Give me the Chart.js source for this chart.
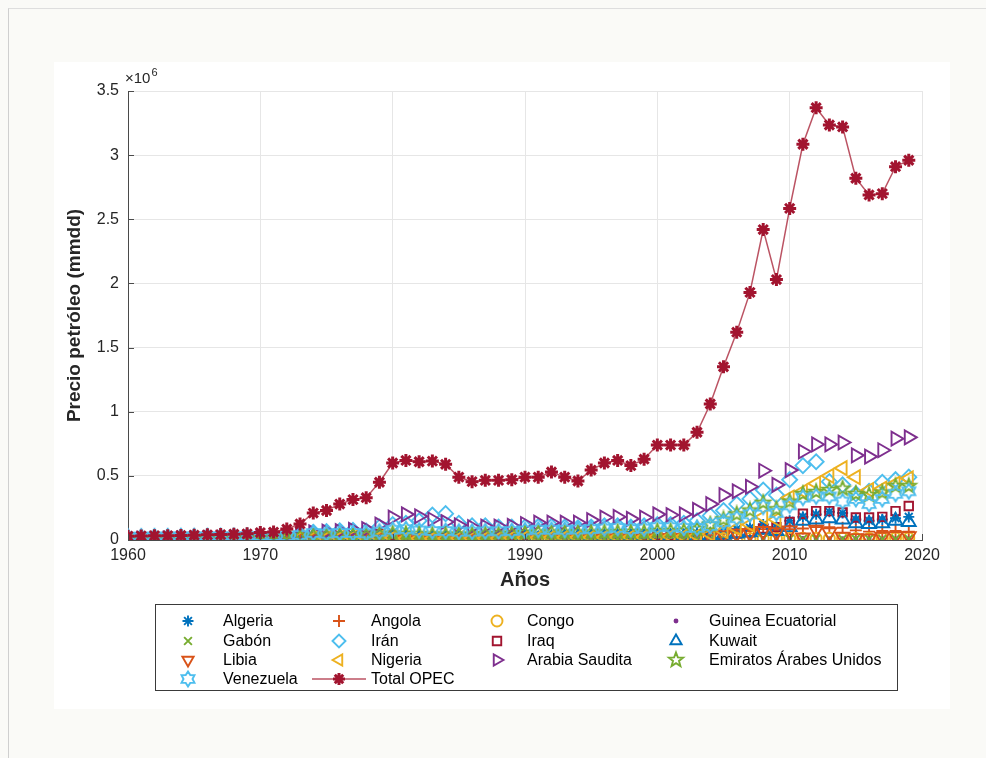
<!DOCTYPE html>
<html>
<head>
<meta charset="utf-8">
<script src="https://cdn.jsdelivr.net/npm/chart.js@4.4.1/dist/chart.umd.min.js"></script>
<style>
    html, body { margin: 0; padding: 0; background: #fafaf7; }
    body { width: 986px; height: 758px; position: relative; overflow: hidden; font-family: "Liberation Sans", Arial, sans-serif; }
    #frame { position: absolute; left: 8px; top: 8px; right: 0; bottom: 0; border-left: 1px solid #cfcfcf; border-top: 1px solid #dedede; }
    #fig { position: absolute; left: 54px; top: 62px; width: 896px; height: 647px; background: #fff; }
    canvas { display: block; }
</style>
</head>
<body>
<div id="frame"></div>
<div id="fig"><canvas id="opecChart" width="896" height="647" style="width:896px;height:647px"></canvas></div>
<script>
// años 1960-2019, valores en millones (eje ×10^6)
const years = [1960, 1961, 1962, 1963, 1964, 1965, 1966, 1967, 1968, 1969,
    1970, 1971, 1972, 1973, 1974, 1975, 1976, 1977, 1978, 1979,
    1980, 1981, 1982, 1983, 1984, 1985, 1986, 1987, 1988, 1989,
    1990, 1991, 1992, 1993, 1994, 1995, 1996, 1997, 1998, 1999,
    2000, 2001, 2002, 2003, 2004, 2005, 2006, 2007, 2008, 2009,
    2010, 2011, 2012, 2013, 2014, 2015, 2016, 2017, 2018, 2019];

const algeria = [0.005, 0.006, 0.008, 0.009, 0.010, 0.012, 0.012, 0.014, 0.016, 0.018,
    0.020, 0.016, 0.022, 0.022, 0.021, 0.020, 0.022, 0.024, 0.026, 0.025,
    0.022, 0.020, 0.020, 0.020, 0.020, 0.020, 0.020, 0.020, 0.020, 0.022,
    0.024, 0.025, 0.025, 0.024, 0.024, 0.024, 0.026, 0.027, 0.027, 0.026,
    0.030, 0.030, 0.035, 0.040, 0.055, 0.075, 0.085, 0.095, 0.120, 0.100,
    0.150, 0.180, 0.200, 0.220, 0.210, 0.160, 0.150, 0.160, 0.170, 0.180];
const angola = [0.000, 0.000, 0.000, 0.000, 0.000, 0.000, 0.000, 0.001, 0.002, 0.003,
    0.004, 0.005, 0.006, 0.006, 0.007, 0.006, 0.004, 0.006, 0.007, 0.007,
    0.008, 0.007, 0.008, 0.009, 0.010, 0.011, 0.012, 0.014, 0.016, 0.018,
    0.018, 0.018, 0.019, 0.019, 0.020, 0.022, 0.024, 0.025, 0.025, 0.026,
    0.028, 0.028, 0.032, 0.034, 0.040, 0.050, 0.060, 0.070, 0.085, 0.080,
    0.085, 0.090, 0.100, 0.100, 0.095, 0.075, 0.065, 0.070, 0.070, 0.065];
const congo = [0.000, 0.000, 0.000, 0.000, 0.000, 0.000, 0.000, 0.000, 0.001, 0.001,
    0.002, 0.002, 0.003, 0.003, 0.004, 0.004, 0.003, 0.003, 0.004, 0.005,
    0.005, 0.006, 0.006, 0.007, 0.007, 0.007, 0.006, 0.006, 0.006, 0.007,
    0.007, 0.007, 0.008, 0.008, 0.008, 0.009, 0.009, 0.010, 0.010, 0.010,
    0.010, 0.010, 0.010, 0.010, 0.011, 0.012, 0.013, 0.012, 0.013, 0.014,
    0.015, 0.015, 0.014, 0.014, 0.013, 0.012, 0.012, 0.014, 0.015, 0.015];
const guinea = [0.000, 0.000, 0.000, 0.000, 0.000, 0.000, 0.000, 0.000, 0.000, 0.000,
    0.000, 0.000, 0.000, 0.000, 0.000, 0.000, 0.000, 0.000, 0.000, 0.000,
    0.000, 0.000, 0.000, 0.000, 0.000, 0.000, 0.000, 0.000, 0.000, 0.000,
    0.000, 0.000, 0.001, 0.001, 0.001, 0.001, 0.002, 0.003, 0.004, 0.005,
    0.006, 0.007, 0.008, 0.009, 0.010, 0.011, 0.012, 0.012, 0.013, 0.013,
    0.012, 0.012, 0.012, 0.011, 0.011, 0.010, 0.009, 0.009, 0.008, 0.008];
const gabon = [0.001, 0.001, 0.001, 0.002, 0.002, 0.002, 0.002, 0.002, 0.002, 0.002,
    0.003, 0.004, 0.005, 0.006, 0.006, 0.006, 0.006, 0.006, 0.006, 0.006,
    0.006, 0.006, 0.006, 0.006, 0.006, 0.006, 0.006, 0.006, 0.006, 0.007,
    0.008, 0.008, 0.008, 0.009, 0.009, 0.009, 0.009, 0.009, 0.009, 0.009,
    0.008, 0.008, 0.008, 0.008, 0.008, 0.008, 0.008, 0.008, 0.008, 0.008,
    0.009, 0.009, 0.009, 0.009, 0.009, 0.009, 0.009, 0.009, 0.009, 0.009];
const iran = [0.010, 0.011, 0.012, 0.013, 0.015, 0.017, 0.019, 0.021, 0.024, 0.027,
    0.030, 0.034, 0.038, 0.046, 0.060, 0.065, 0.072, 0.075, 0.070, 0.100,
    0.120, 0.130, 0.150, 0.195, 0.205, 0.130, 0.110, 0.110, 0.100, 0.100,
    0.100, 0.105, 0.105, 0.100, 0.095, 0.100, 0.110, 0.110, 0.100, 0.110,
    0.120, 0.120, 0.130, 0.150, 0.190, 0.230, 0.280, 0.320, 0.390, 0.350,
    0.470, 0.580, 0.610, 0.455, 0.430, 0.360, 0.380, 0.450, 0.470, 0.490];
const iraq = [0.008, 0.009, 0.010, 0.010, 0.011, 0.012, 0.012, 0.012, 0.014, 0.015,
    0.015, 0.017, 0.016, 0.020, 0.022, 0.025, 0.028, 0.030, 0.033, 0.045,
    0.035, 0.015, 0.014, 0.014, 0.016, 0.020, 0.022, 0.028, 0.035, 0.038,
    0.030, 0.004, 0.006, 0.008, 0.008, 0.008, 0.009, 0.015, 0.025, 0.030,
    0.035, 0.033, 0.028, 0.020, 0.030, 0.040, 0.050, 0.060, 0.090, 0.100,
    0.140, 0.205, 0.225, 0.225, 0.215, 0.175, 0.175, 0.180, 0.225, 0.265];
const kuwait = [0.015, 0.016, 0.017, 0.018, 0.019, 0.020, 0.021, 0.022, 0.023, 0.024,
    0.026, 0.028, 0.030, 0.028, 0.025, 0.020, 0.021, 0.020, 0.021, 0.025,
    0.017, 0.012, 0.010, 0.010, 0.011, 0.010, 0.012, 0.012, 0.014, 0.016,
    0.010, 0.003, 0.010, 0.018, 0.019, 0.019, 0.020, 0.020, 0.021, 0.020,
    0.022, 0.022, 0.020, 0.024, 0.030, 0.040, 0.050, 0.060, 0.080, 0.070,
    0.100, 0.150, 0.160, 0.170, 0.160, 0.130, 0.125, 0.130, 0.150, 0.140];
const libia = [0.000, 0.000, 0.001, 0.002, 0.004, 0.006, 0.008, 0.010, 0.013, 0.016,
    0.018, 0.016, 0.015, 0.015, 0.012, 0.013, 0.016, 0.017, 0.017, 0.018,
    0.015, 0.010, 0.010, 0.010, 0.010, 0.010, 0.010, 0.010, 0.010, 0.011,
    0.012, 0.013, 0.013, 0.012, 0.012, 0.012, 0.013, 0.013, 0.012, 0.012,
    0.015, 0.015, 0.015, 0.020, 0.030, 0.040, 0.050, 0.055, 0.070, 0.060,
    0.075, 0.020, 0.080, 0.060, 0.025, 0.015, 0.012, 0.025, 0.030, 0.030];
const nigeria = [0.000, 0.000, 0.000, 0.001, 0.001, 0.002, 0.003, 0.002, 0.001, 0.004,
    0.008, 0.012, 0.014, 0.016, 0.017, 0.015, 0.017, 0.018, 0.017, 0.020,
    0.018, 0.013, 0.012, 0.011, 0.012, 0.014, 0.014, 0.013, 0.013, 0.016,
    0.018, 0.019, 0.020, 0.020, 0.020, 0.020, 0.021, 0.022, 0.022, 0.022,
    0.025, 0.027, 0.028, 0.033, 0.045, 0.070, 0.090, 0.120, 0.180, 0.160,
    0.330, 0.380, 0.440, 0.500, 0.560, 0.490, 0.390, 0.400, 0.440, 0.480];
const arabiaSaudita = [0.008, 0.009, 0.010, 0.011, 0.012, 0.013, 0.014, 0.015, 0.016, 0.017,
    0.020, 0.025, 0.030, 0.045, 0.060, 0.065, 0.070, 0.080, 0.085, 0.120,
    0.175, 0.200, 0.185, 0.160, 0.140, 0.115, 0.100, 0.105, 0.105, 0.110,
    0.125, 0.135, 0.135, 0.135, 0.135, 0.155, 0.175, 0.180, 0.165, 0.175,
    0.200, 0.195, 0.200, 0.235, 0.280, 0.350, 0.380, 0.415, 0.540, 0.430,
    0.545, 0.690, 0.745, 0.745, 0.760, 0.660, 0.650, 0.700, 0.790, 0.800];
const emiratos = [0.000, 0.000, 0.001, 0.002, 0.003, 0.005, 0.007, 0.009, 0.012, 0.014,
    0.016, 0.020, 0.024, 0.030, 0.035, 0.035, 0.040, 0.040, 0.038, 0.045,
    0.050, 0.048, 0.045, 0.042, 0.042, 0.040, 0.042, 0.045, 0.045, 0.050,
    0.055, 0.058, 0.058, 0.058, 0.058, 0.058, 0.060, 0.062, 0.062, 0.060,
    0.070, 0.070, 0.070, 0.085, 0.120, 0.160, 0.200, 0.230, 0.290, 0.240,
    0.300, 0.360, 0.375, 0.390, 0.400, 0.360, 0.350, 0.370, 0.420, 0.420];
const venezuela = [0.025, 0.026, 0.027, 0.027, 0.028, 0.028, 0.028, 0.028, 0.029, 0.030,
    0.032, 0.031, 0.030, 0.040, 0.055, 0.050, 0.055, 0.055, 0.052, 0.065,
    0.080, 0.085, 0.075, 0.070, 0.070, 0.065, 0.065, 0.068, 0.068, 0.070,
    0.075, 0.080, 0.080, 0.080, 0.082, 0.085, 0.090, 0.095, 0.085, 0.090,
    0.100, 0.100, 0.095, 0.095, 0.110, 0.140, 0.170, 0.200, 0.260, 0.210,
    0.270, 0.330, 0.340, 0.340, 0.300, 0.320, 0.280, 0.320, 0.360, 0.380];
const totalOpec = [0.030, 0.032, 0.034, 0.034, 0.035, 0.037, 0.040, 0.042, 0.045, 0.048,
    0.058, 0.062, 0.085, 0.125, 0.210, 0.230, 0.280, 0.315, 0.330, 0.450,
    0.600, 0.620, 0.610, 0.615, 0.590, 0.490, 0.455, 0.465, 0.465, 0.470,
    0.490, 0.490, 0.530, 0.490, 0.460, 0.545, 0.600, 0.620, 0.580, 0.630,
    0.740, 0.740, 0.740, 0.840, 1.060, 1.350, 1.620, 1.930, 2.420, 2.030,
    2.585, 3.085, 3.370, 3.235, 3.220, 2.820, 2.690, 2.700, 2.910, 2.960];

const xTicks = [1960, 1970, 1980, 1990, 2000, 2010, 2020];
const yTicks = [0, 0.5, 1, 1.5, 2, 2.5, 3, 3.5];

const FONT = '"Liberation Sans", Arial, Helvetica, sans-serif';

// marcadores estilo MATLAB que Chart.js no trae
function starCanvas(color, points, r, inner) {
    const size = Math.ceil(r * 2 + 5);
    const c = document.createElement('canvas');
    c.width = size; c.height = size;
    const g = c.getContext('2d');
    g.strokeStyle = color;
    g.lineWidth = 1.9;
    g.beginPath();
    for (let i = 0; i < points * 2; i++) {
        const rad = (i % 2 === 0) ? r : r * inner;
        const a = -Math.PI / 2 + i * Math.PI / points;
        const px = size / 2 + rad * Math.cos(a);
        const py = size / 2 + rad * Math.sin(a);
        if (i === 0) g.moveTo(px, py); else g.lineTo(px, py);
    }
    g.closePath();
    g.stroke();
    return c;
}

const C_BLUE = '#0072BD', C_ORANGE = '#D95319', C_YELLOW = '#EDB120', C_PURPLE = '#7E2F8E',
    C_GREEN = '#77AC30', C_CYAN = '#4DBEEE', C_RED = '#A2142F';

const series = [
    { label: 'Algeria', data: algeria, color: C_BLUE, style: 'star', radius: 5.5, rot: 0 },
    { label: 'Angola', data: angola, color: C_ORANGE, style: 'cross', radius: 6, rot: 0 },
    { label: 'Congo', data: congo, color: C_YELLOW, style: 'circle', radius: 5.5, rot: 0 },
    { label: 'Guinea Ecuatorial', data: guinea, color: C_PURPLE, style: 'circle', radius: 1.5, rot: 0, fill: true },
    { label: 'Gabón', data: gabon, color: C_GREEN, style: 'crossRot', radius: 5.5, rot: 0 },
    { label: 'Irán', data: iran, color: C_CYAN, style: 'rectRot', radius: 7.5, rot: 0 },
    { label: 'Iraq', data: iraq, color: C_RED, style: 'rect', radius: 6, rot: 0 },
    { label: 'Kuwait', data: kuwait, color: C_BLUE, style: 'triangle', radius: 8, rot: 0 },
    { label: 'Libia', data: libia, color: C_ORANGE, style: 'triangle', radius: 8, rot: 180 },
    { label: 'Nigeria', data: nigeria, color: C_YELLOW, style: 'triangle', radius: 8, rot: 270 },
    { label: 'Arabia Saudita', data: arabiaSaudita, color: C_PURPLE, style: 'triangle', radius: 8, rot: 90 },
    { label: 'Emiratos Árabes Unidos', data: emiratos, color: C_GREEN, style: starCanvas(C_GREEN, 5, 7.5, 0.42), radius: 7.5, rot: 0 },
    { label: 'Venezuela', data: venezuela, color: C_CYAN, style: starCanvas(C_CYAN, 6, 7.5, 0.6), radius: 7.5, rot: 0 },
    { label: 'Total OPEC', data: totalOpec, color: C_RED, style: 'star', radius: 6.5, rot: 0, line: true }
];

const datasets = series.map((s, i) => ({
    label: s.label,
    data: s.data.map((v, j) => ({ x: years[j], y: v })),
    showLine: !!s.line,
    borderColor: s.line ? 'rgba(170,40,60,0.8)' : s.color,
    borderWidth: s.line ? 1.5 : 0,
    pointStyle: s.style,
    rotation: s.rot,
    pointRadius: s.radius,
    pointBorderColor: s.color,
    pointBackgroundColor: s.fill ? s.color : 'rgba(0,0,0,0)',
    pointBorderWidth: s.line ? 3 : 1.9,
    tension: 0,
    order: series.length - i
}));

// ejes con marcas interiores y el factor ×10^6
const axisExtras = {
    id: 'axisExtras',
    afterDraw(chart) {
        const { ctx, chartArea: a, scales: { x, y } } = chart;
        ctx.save();
        ctx.strokeStyle = '#4a4a4a';
        ctx.lineWidth = 1;
        ctx.beginPath();
        yTicks.forEach(t => {
            const py = Math.round(y.getPixelForValue(t)) + 0.5;
            ctx.moveTo(a.left, py); ctx.lineTo(a.left + 6, py);
        });
        xTicks.forEach(t => {
            const px = Math.round(x.getPixelForValue(t)) + 0.5;
            ctx.moveTo(px, a.bottom); ctx.lineTo(px, a.bottom - 6);
        });
        ctx.stroke();

        ctx.fillStyle = '#262626';
        ctx.textBaseline = 'alphabetic';
        ctx.textAlign = 'left';
        ctx.font = '15px ' + FONT;
        ctx.fillText('×10', a.left - 3, a.top - 8);
        const w = ctx.measureText('×10').width;
        ctx.font = '11px ' + FONT;
        ctx.fillText('6', a.left - 3 + w + 1, a.top - 15);
        ctx.restore();
    }
};

// leyenda en 4 columnas con recuadro, como en MATLAB
const gridLegend = {
    id: 'gridLegend',
    afterDraw(chart) {
        const ctx = chart.ctx;
        const box = { left: 101.5, top: 542.5, right: 843.5, bottom: 628.5 };
        const markX = [134, 285, 443, 622];
        const textX = [169, 317, 473, 655];
        const rowY = [559, 579, 598, 617];
        ctx.save();
        ctx.strokeStyle = '#3a3a3a';
        ctx.lineWidth = 1;
        ctx.strokeRect(box.left, box.top, box.right - box.left, box.bottom - box.top);
        ctx.font = '16px ' + FONT;
        ctx.textBaseline = 'middle';
        ctx.textAlign = 'left';
        series.forEach((s, i) => {
            const col = i % 4, row = Math.floor(i / 4);
            const mx = markX[col], my = rowY[row];
            const r = s.line ? s.radius - 0.5 : Math.min(s.radius, 6.5);
            if (s.line) {
                ctx.strokeStyle = 'rgba(170,40,60,0.8)';
                ctx.lineWidth = 1.5;
                ctx.beginPath();
                ctx.moveTo(mx - 27, my); ctx.lineTo(mx + 27, my);
                ctx.stroke();
            }
            ctx.strokeStyle = s.color;
            ctx.fillStyle = s.fill ? s.color : 'rgba(0,0,0,0)';
            ctx.lineWidth = s.line ? 3 : 1.9;
            Chart.helpers.drawPoint(ctx, { pointStyle: s.style, rotation: s.rot, radius: r, borderWidth: ctx.lineWidth }, mx, my);
            ctx.fillStyle = '#000';
            ctx.fillText(s.label, textX[col], my + 1);
        });
        ctx.restore();
    }
};

new Chart(document.getElementById('opecChart').getContext('2d'), {
    type: 'line',
    data: { datasets },
    plugins: [axisExtras, gridLegend],
    options: {
        responsive: false,
        animation: false,
        layout: { padding: { left: 0, top: 29, right: 28, bottom: 109 } },
        plugins: { legend: { display: false }, tooltip: { enabled: false } },
        scales: {
            x: {
                type: 'linear',
                min: 1960, max: 2020,
                afterBuildTicks: s => { s.ticks = xTicks.map(v => ({ value: v })); },
                afterFit: s => { s.height = 60; },
                ticks: { color: '#262626', font: { family: FONT, size: 16 }, padding: 6, callback: v => String(v) },
                grid: { color: '#e6e6e6', drawTicks: false },
                border: { color: '#4a4a4a', width: 1 },
                title: { display: true, text: 'Años', color: '#262626', font: { family: FONT, size: 20, weight: 'bold' }, padding: { top: 0, bottom: 8 } }
            },
            y: {
                type: 'linear',
                min: 0, max: 3.5,
                afterBuildTicks: s => { s.ticks = yTicks.map(v => ({ value: v })); },
                afterFit: s => { s.width = 74; },
                ticks: { color: '#262626', font: { family: FONT, size: 16 }, padding: 9, callback: v => String(v) },
                grid: { color: '#e6e6e6', drawTicks: false },
                border: { color: '#4a4a4a', width: 1 },
                title: { display: true, text: 'Precio petróleo (mmdd)', color: '#262626', font: { family: FONT, size: 19, weight: 'bold' }, padding: { top: 9, bottom: 0 } }
            }
        }
    }
});
</script>
</body>
</html>
